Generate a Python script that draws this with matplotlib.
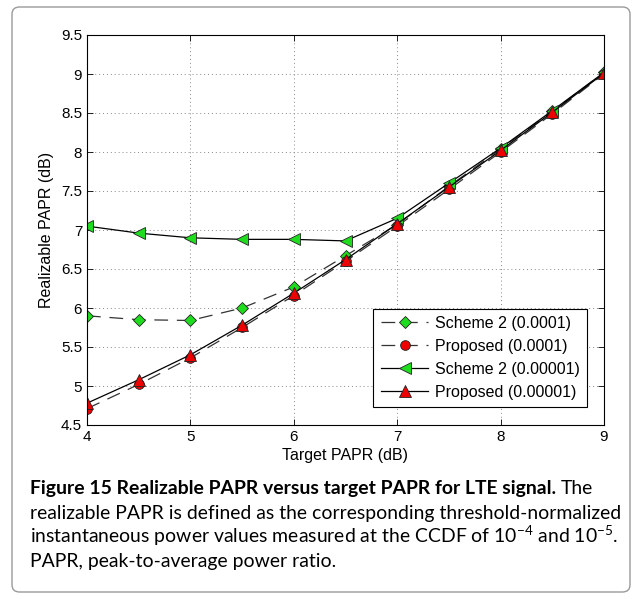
import matplotlib
matplotlib.use("Agg")
import matplotlib.pyplot as plt
from matplotlib.patches import FancyBboxPatch

target_papr = [4, 4.5, 5, 5.5, 6, 6.5, 7, 7.5, 8, 8.5, 9]
scheme2_1e4 = [5.90, 5.85, 5.84, 6.00, 6.27, 6.67, 7.07, 7.56, 8.04, 8.52, 9.02]
proposed_1e4 = [4.71, 5.02, 5.36, 5.75, 6.16, 6.60, 7.05, 7.52, 8.00, 8.49, 9.00]
scheme2_1e5 = [7.05, 6.96, 6.90, 6.88, 6.88, 6.86, 7.15, 7.60, 8.05, 8.53, 9.02]
proposed_1e5 = [4.78, 5.08, 5.40, 5.78, 6.19, 6.62, 7.08, 7.55, 8.02, 8.51, 9.01]

labels = ["Scheme 2 (0.0001)", "Proposed (0.0001)",
          "Scheme 2 (0.00001)", "Proposed (0.00001)"]
xticks = [4, 5, 6, 7, 8, 9]
yticks = [4.5, 5, 5.5, 6, 6.5, 7, 7.5, 8, 8.5, 9, 9.5]

caption_bold = "Figure 15 Realizable PAPR versus target PAPR for LTE signal."
caption_lines = [
    "The",
    "realizable PAPR is defined as the corresponding threshold-normalized",
    r"instantaneous power values measured at the CCDF of 10$^{-4}$ and 10$^{-5}$.",
    "PAPR, peak-to-average power ratio.",
]

plt.rcParams["font.family"] = ["Liberation Sans", "DejaVu Sans"]
plt.rcParams["mathtext.fontset"] = "custom"
plt.rcParams["mathtext.rm"] = "Lato"

W, H = 635, 599
fig = plt.figure(figsize=(W / 100, H / 100), dpi=100)

# rounded frame around figure and caption
frame = FancyBboxPatch((12 / W, 7 / H), 618 / W, 585 / H,
                       boxstyle="round,pad=0,rounding_size=0.012",
                       transform=fig.transFigure, fill=False,
                       edgecolor="#9a9a9a", linewidth=1.0)
fig.patches.append(frame)

ax = fig.add_axes([87 / W, 1 - 425 / H, 517 / W, 390 / H])

dash = (0, (11, 7))
ax.plot(target_papr, scheme2_1e4, linestyle=dash, color="#333333", lw=0.9,
        marker="D", markersize=6, markerfacecolor="#1fdc1f", markeredgecolor="#222222",
        markeredgewidth=0.6, label=labels[0])
ax.plot(target_papr, proposed_1e4, linestyle=dash, color="#333333", lw=0.9,
        marker="o", markersize=7, markerfacecolor="#ee0000", markeredgecolor="#222222",
        markeredgewidth=0.6, label=labels[1])
ax.plot(target_papr, scheme2_1e5, linestyle="-", color="black", lw=0.9,
        marker="<", markersize=8, markerfacecolor="#1fdc1f", markeredgecolor="#222222",
        markeredgewidth=0.6, label=labels[2])
ax.plot(target_papr, proposed_1e5, linestyle="-", color="black", lw=0.9,
        marker="^", markersize=8, markerfacecolor="#ee0000", markeredgecolor="#222222",
        markeredgewidth=0.6, label=labels[3])

ax.set_xlim(4, 9)
ax.set_ylim(4.5, 9.5)
ax.set_xticks(xticks)
ax.set_yticks(yticks)
ax.set_yticklabels([f"{v:g}" for v in yticks])
ax.tick_params(direction="in", labelsize=11, length=4, width=0.6, top=True, right=True)
ax.grid(True, linestyle=(0, (1, 3)), color="#888888", linewidth=0.7)
for s in ax.spines.values():
    s.set_linewidth(0.8)
ax.set_xlabel("Target PAPR (dB)", fontsize=11.5, labelpad=3)
ax.set_ylabel("Realizable PAPR (dB)", fontsize=11.5, labelpad=5)

leg = ax.legend(loc="lower right", bbox_to_anchor=(0.967, 0.046), fontsize=11.5,
                fancybox=False, framealpha=1, edgecolor="black", handlelength=3.0,
                borderpad=0.45, labelspacing=0.5, handletextpad=0.4,
                borderaxespad=0)
leg.get_frame().set_linewidth(0.8)

# caption below the axes, sized so the long line spans the frame width
cap_font = ["Lato", "DejaVu Sans"]
x0 = 30 / W
x_end = 618
renderer = fig.canvas.get_renderer()
probe = fig.text(x0, 0, caption_lines[1], fontsize=12, family=cap_font)
width12 = probe.get_window_extent(renderer).width
probe.remove()
fs = 12 * (x_end - 30) / width12

baselines = [494, 519, 543, 567]
t_bold = fig.text(x0, 1 - baselines[0] / H, caption_bold, fontsize=fs,
                  fontweight="bold", family=cap_font, va="baseline")
bb = t_bold.get_window_extent(renderer)
fig.text(bb.x1 / W + 5 / W, 1 - baselines[0] / H, caption_lines[0], fontsize=fs,
         family=cap_font, va="baseline")
for line, yb in zip(caption_lines[1:], baselines[1:]):
    fig.text(x0, 1 - yb / H, line, fontsize=fs, family=cap_font, va="baseline")

fig.savefig("out.png", dpi=100)
